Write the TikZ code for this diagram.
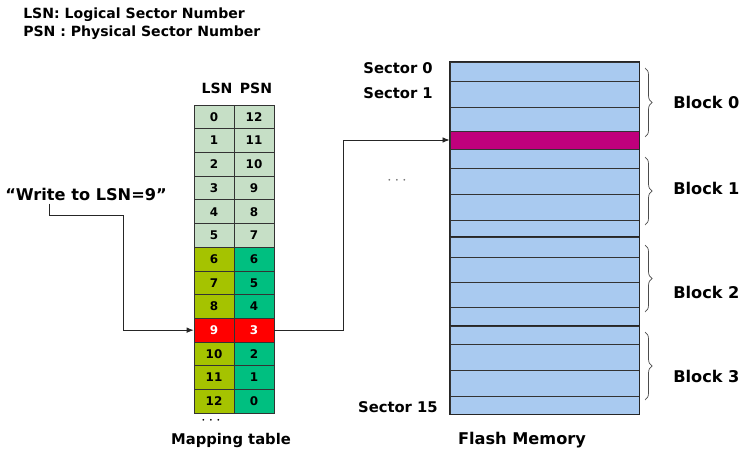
\documentclass[tikz,border=0pt]{standalone}
\usepackage{fontspec}
\setmainfont{DejaVu Sans}
\usetikzlibrary{positioning,decorations.pathreplacing,arrows.meta}
\definecolor{cellpale}{HTML}{C6DFC6}
\definecolor{cellolive}{HTML}{A5C300}
\definecolor{cellteal}{HTML}{00BF80}
\definecolor{flashblue}{HTML}{A9CAF0}
\definecolor{flashpink}{HTML}{C0007C}
\begin{document}
\begin{tikzpicture}[x=0.025cm, y=-0.025cm,
  txt/.style={inner sep=0pt, font=\bfseries\fontsize{#1}{#1}\selectfont},
  cell/.style={draw=black!80, line width=0.5pt, minimum width=1cm, minimum height=0.5925cm,
    inner sep=0pt, font=\bfseries\fontsize{8.5}{8.5}\selectfont},
  sector/.style={draw=black!80, line width=0.6pt, fill=flashblue, minimum width=4.725cm, inner sep=0pt},
  link/.style={-{Latex[length=5pt,width=4pt]}, line width=0.6pt, black!85},
  blockbrace/.style={decorate, decoration={brace, amplitude=5pt}, line width=0.5pt, black!70}]
\useasboundingbox (0,0) rectangle (744,453);

% Legend
\node[txt=10, anchor=west] (lsnkey) at (23,15) {LSN: Logical Sector Number};
\node[txt=10, anchor=west] (psnkey) at (23,33) {PSN : Physical Sector Number};

% Mapping table
\foreach \i in {0,...,5} {
  \pgfmathtruncatemacro\p{12-\i}
  \node[cell, fill=cellpale] (l\i) at (214,{116.85+23.7*\i}) {\i};
  \node[cell, fill=cellpale] (p\i) at (254,{116.85+23.7*\i}) {\p};
}
\foreach \i in {6,7,8,10,11,12} {
  \pgfmathtruncatemacro\p{12-\i}
  \node[cell, fill=cellolive] (l\i) at (214,{116.85+23.7*\i}) {\i};
  \node[cell, fill=cellteal] (p\i) at (254,{116.85+23.7*\i}) {\p};
}
\node[cell, fill=red, text=white] (l9) at (214,{116.85+23.7*9}) {9};
\node[cell, fill=red, text=white] (p9) at (254,{116.85+23.7*9}) {3};

\node[txt=10] (lsnhead) at (217,88) {LSN};
\node[txt=10] (psnhead) at (256,88) {PSN};
\node[txt=12] (tabdots) at (211,421) {$\cdots$};
\node[txt=10.5] (maptitle) at (231,440) {Mapping table};

% Flash memory
\foreach \k/\t/\b in {0/62/81, 1/81/107, 2/107/131, 4/149/168, 5/168/194, 6/194/220, 7/220/237,
  8/237/257, 9/257/282, 10/282/307, 11/307/326, 12/326/344, 13/344/370, 14/370/396, 15/396/414}
  \node[sector, minimum height={(\b-\t)*0.025cm}] (s\k) at (544.5,{(\t+\b)/2}) {};
\node[sector, fill=flashpink, minimum height={18*0.025cm}] (s3) at (544.5,140) {};
\draw[line width=1.2pt, black!85] (s0.north west) rectangle (s15.south east);
\draw[line width=1.2pt, black!85] (s8.north west) -- (s8.north east);
\draw[line width=1.2pt, black!85] (s12.north west) -- (s12.north east);

\node[txt=10.5, anchor=east] (sec0) at (433,68) {Sector 0};
\node[txt=10.5, anchor=east] (sec1) at (433,93) {Sector 1};
\node[txt=10.5, anchor=east] (sec15) at (438,407) {Sector 15};
\node[txt=12, text=black!55] (flashdots) at (397,181) {$\cdots$};
\node[txt=11.5] (flashtitle) at (522,440) {Flash Memory};

% Blocks
\draw[blockbrace] (645,68) -- (645,137);
\draw[blockbrace] (645,157) -- (645,225);
\draw[blockbrace] (645,245) -- (645,312);
\draw[blockbrace] (645,332) -- (645,400);
\node[txt=11.5, anchor=west] (blk0) at (673,102) {Block 0};
\node[txt=11.5, anchor=west] (blk1) at (673,188) {Block 1};
\node[txt=11.5, anchor=west] (blk2) at (673,292) {Block 2};
\node[txt=11.5, anchor=west] (blk3) at (673,376) {Block 3};

% Request and its path
\node[txt=11.5] (req) at (86,194) {“Write to LSN=9”};
\coordinate (reqx) at (49,0);
\draw[link] (req.south -| reqx) ++(0,3) -- ++(0,12) -- ++(74,0) |- (l9.west);
\draw[link] (p9.east) -- ++(69,0) |- (s3.west);
\end{tikzpicture}
\end{document}
